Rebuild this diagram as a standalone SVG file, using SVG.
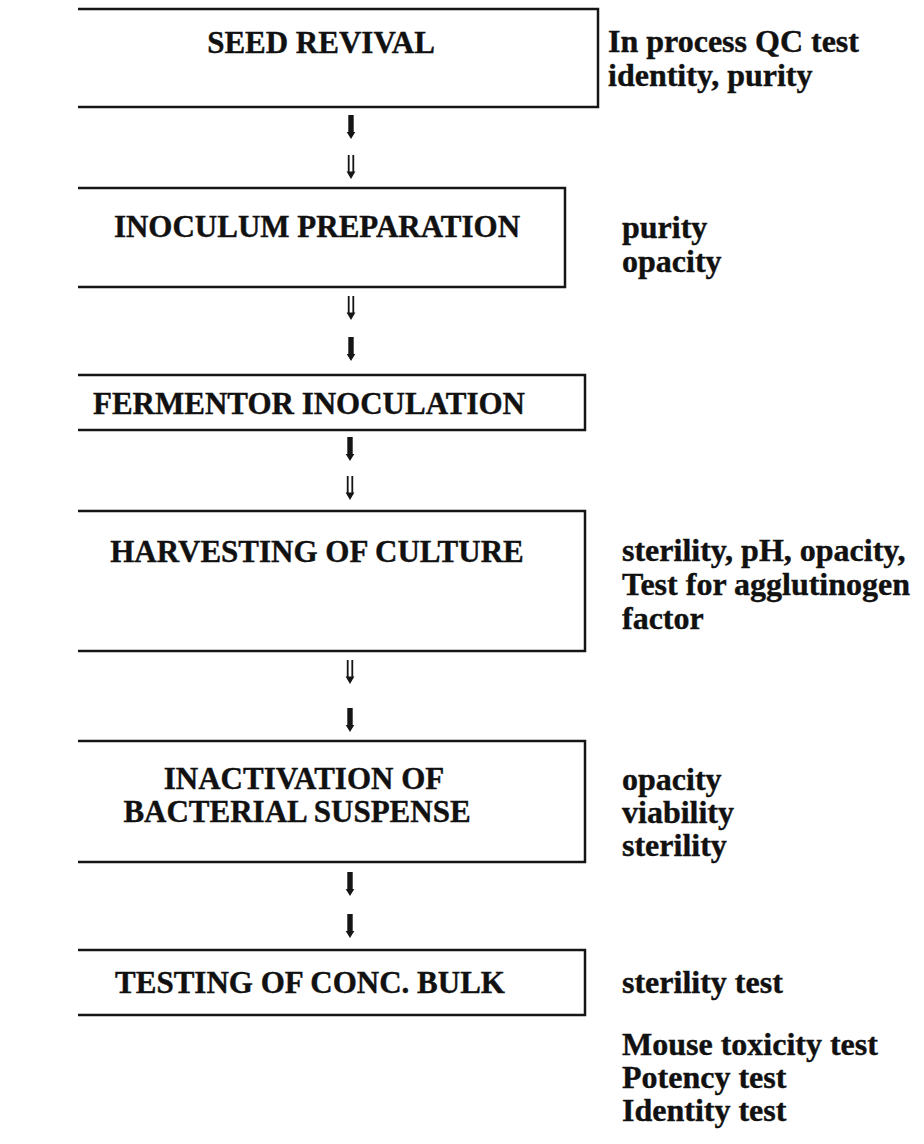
<svg xmlns="http://www.w3.org/2000/svg" width="924" height="1144" viewBox="0 0 924 1144">
  <defs>
    <style>
      .t{font-family:"Liberation Serif","Times New Roman",serif;font-weight:bold;font-size:31px;fill:#111;stroke:#111;stroke-width:0.4}
      .n{font-size:32px}
      .c{text-anchor:middle}
      .edge{fill:none;stroke:#151515;stroke-width:2.5}
      .solid{fill:#151515}
      .twin{fill:none;stroke:#151515;stroke-width:1.8}
    </style>
    <!-- single thick downward arrow, 24px tall, origin at top centre -->
    <path id="arrowSolid" class="solid" d="M-2.7,0 H2.7 V17 H4.3 L0,24 L-4.3,17 H-2.7 Z"/>
    <!-- double-shaft downward arrow -->
    <g id="arrowTwin">
      <path class="twin" d="M-2.3,0 V18 M2.3,0 V18"/>
      <path class="solid" d="M-4.4,16.5 H4.4 L0,24 Z"/>
    </g>
  </defs>

  <rect width="924" height="1144" fill="#fff"/>

  <g id="seed-revival">
    <path class="edge" d="M78,9 H598 V107 H78"/>
    <text class="t c" x="321" y="53">SEED REVIVAL</text>
    <text class="t n" x="608" y="52">In process QC test</text>
    <text class="t n" x="608" y="86">identity, purity</text>
  </g>

  <g id="inoculum-preparation">
    <path class="edge" d="M78,188 H565 V287 H78"/>
    <text class="t c" x="317" y="237">INOCULUM PREPARATION</text>
    <text class="t n" x="622" y="238">purity</text>
    <text class="t n" x="622" y="272">opacity</text>
  </g>

  <g id="fermentor-inoculation">
    <path class="edge" d="M78,375 H585 V430 H78"/>
    <text class="t c" x="309" y="414">FERMENTOR INOCULATION</text>
  </g>

  <g id="harvesting-of-culture">
    <path class="edge" d="M78,511 H585 V651 H78"/>
    <text class="t c" x="317" y="562">HARVESTING OF CULTURE</text>
    <text class="t n" x="622" y="561">sterility, pH, opacity,</text>
    <text class="t n" x="622" y="595">Test for agglutinogen</text>
    <text class="t n" x="622" y="629">factor</text>
  </g>

  <g id="inactivation">
    <path class="edge" d="M78,741 H585 V862 H78"/>
    <text class="t c" x="304" y="789">INACTIVATION OF</text>
    <text class="t c" x="297" y="822">BACTERIAL SUSPENSE</text>
    <text class="t n" x="622" y="790">opacity</text>
    <text class="t n" x="622" y="823">viability</text>
    <text class="t n" x="622" y="856">sterility</text>
  </g>

  <g id="testing-of-bulk">
    <path class="edge" d="M78,950 H585 V1015 H78"/>
    <text class="t c" x="310" y="993">TESTING OF CONC. BULK</text>
    <text class="t n" x="622" y="993">sterility test</text>
    <text class="t n" x="622" y="1055">Mouse toxicity test</text>
    <text class="t n" x="622" y="1088">Potency test</text>
    <text class="t n" x="622" y="1121">Identity test</text>
  </g>

  <g id="connectors">
    <use href="#arrowSolid" x="351" y="115"/>
    <use href="#arrowTwin" x="351" y="155"/>
    <use href="#arrowTwin" x="351" y="296"/>
    <use href="#arrowSolid" x="351" y="337"/>
    <use href="#arrowSolid" x="350" y="437"/>
    <use href="#arrowTwin" x="350" y="476"/>
    <use href="#arrowTwin" x="350" y="660"/>
    <use href="#arrowSolid" x="350" y="708"/>
    <use href="#arrowSolid" x="350" y="872"/>
    <use href="#arrowSolid" x="350" y="914"/>
  </g>
</svg>
